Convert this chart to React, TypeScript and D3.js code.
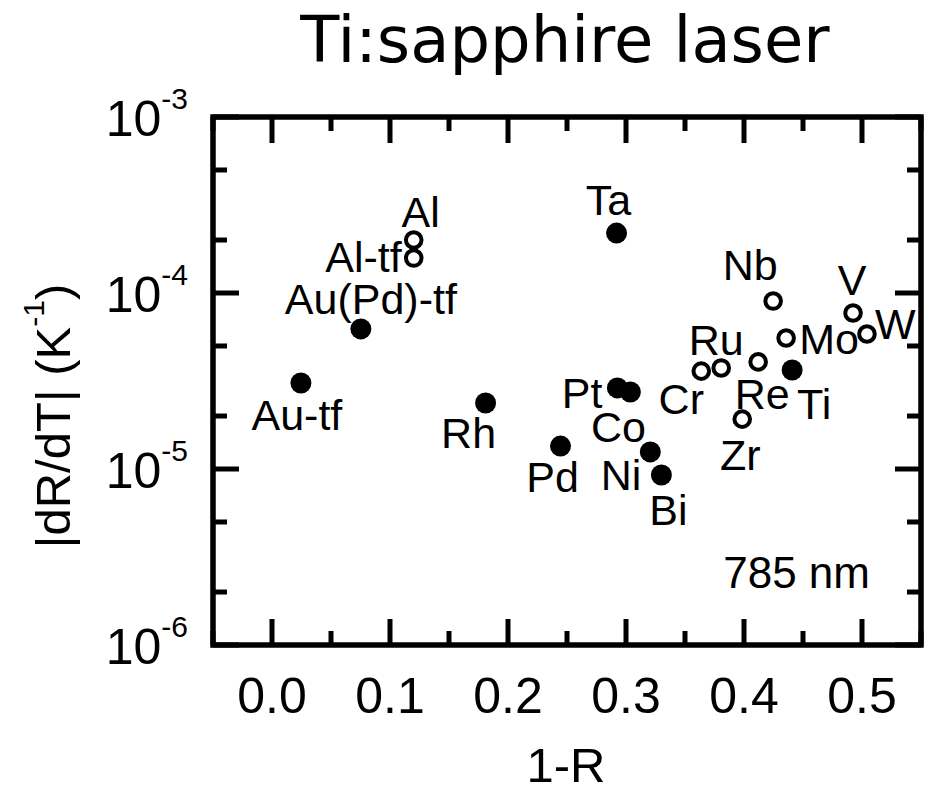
import React from "react";
import * as d3 from "d3";

// ---- data ----
const elements = ["Au-tf", "Au(Pd)-tf", "Al", "Al-tf", "Rh", "Ta", "Pd", "Pt", "Co", "Ni", "Bi", "Cr", "Ru", "Re", "Ti", "Zr", "Nb", "Mo", "V", "W"];
const oneMinusR = [0.0245, 0.0753, 0.1201, 0.1201, 0.181, 0.292, 0.2445, 0.2927, 0.3037, 0.3206, 0.33, 0.3638, 0.3807, 0.412, 0.4408, 0.3985, 0.4247, 0.4357, 0.4924, 0.5042];
const dRdT = [3.08e-5, 6.25e-5, 2.0e-4, 1.58e-4, 2.37e-5, 2.19e-4, 1.35e-5, 2.89e-5, 2.74e-5, 1.25e-5, 9.25e-6, 3.6e-5, 3.75e-5, 4.06e-5, 3.65e-5, 1.92e-5, 9.0e-5, 5.55e-5, 7.7e-5, 5.85e-5];
const markerType = ["filled", "filled", "open", "open", "filled", "filled", "filled", "filled", "filled", "filled", "filled", "open", "open", "open", "filled", "open", "open", "open", "open", "open"];
const xTicks = [0.0, 0.1, 0.2, 0.3, 0.4, 0.5];
const xMinorTicks = [-0.05, 0.05, 0.15, 0.25, 0.35, 0.45, 0.55];
const yTickExps = [-3, -4, -5, -6];
const yMinorTicks = [2e-6, 5e-6, 2e-5, 5e-5, 2e-4, 5e-4];
const title = "Ti:sapphire laser";
const xTitle = "1-R";
const annotation = "785 nm";

// ---- label layout (offsets from point, px) ----
const labelLayout: Record<string, [number, number, string]> = {
  "Au-tf": [-4, 47, "middle"],
  "Au(Pd)-tf": [10, -15, "middle"],
  "Al": [7, -13, "middle"],
  "Al-tf": [-12, 14, "end"],
  "Rh": [-17, 45, "middle"],
  "Ta": [-8, -18, "middle"],
  "Pd": [-8, 46, "middle"],
  "Pt": [-15, 20, "end"],
  "Co": [-12, 50, "middle"],
  "Ni": [-9, 38, "end"],
  "Bi": [7, 50, "middle"],
  "Cr": [-20, 43, "middle"],
  "Ru": [-5, -13, "middle"],
  "Re": [4, 47, "middle"],
  "Ti": [22, 49, "middle"],
  "Zr": [-2, 51, "middle"],
  "Nb": [-23, -21, "middle"],
  "Mo": [13, 16, "start"],
  "V": [-1, -18, "middle"],
  "W": [8, 5, "start"],
};

const W = 930;
const H = 793;
const left = 213;
const right = 921;
const top = 117;
const bottom = 645;
const FONT = "'Liberation Sans', Arial, sans-serif";

export default function App() {
  const x = d3.scaleLinear().domain([-0.05, 0.55]).range([left, right]);
  const y = d3.scaleLog().domain([1e-6, 1e-3]).range([bottom, top]);
  const major = 26;
  const minor = 14;
  const sw = 5;

  return (
    <svg width={W} height={H} style={{ position: "absolute", left: 0, top: 0, background: "#fff" }}>
      <rect x={0} y={0} width={W} height={H} fill="#fff" />
      <text x={565} y={62} textAnchor="middle" fontFamily="'DejaVu Sans', Verdana, sans-serif" fontSize={64} fill="#000">
        {title}
      </text>

      {/* x ticks */}
      {xTicks.map((t) => (
        <g key={"xt" + t}>
          <line x1={x(t)} x2={x(t)} y1={bottom} y2={bottom - major} stroke="#000" strokeWidth={sw} />
          <line x1={x(t)} x2={x(t)} y1={top} y2={top + major} stroke="#000" strokeWidth={sw} />
          <text x={x(t)} y={713} textAnchor="middle" fontFamily={FONT} fontSize={50} fill="#000">
            {d3.format(".1f")(t)}
          </text>
        </g>
      ))}
      {xMinorTicks.map((t) => (
        <g key={"xm" + t}>
          <line x1={x(t)} x2={x(t)} y1={bottom} y2={bottom - minor} stroke="#000" strokeWidth={sw} />
          <line x1={x(t)} x2={x(t)} y1={top} y2={top + minor} stroke="#000" strokeWidth={sw} />
        </g>
      ))}

      {/* y ticks */}
      {yTickExps.map((e) => {
        const v = Math.pow(10, e);
        return (
          <g key={"yt" + e}>
            <line x1={left} x2={left + major} y1={y(v)} y2={y(v)} stroke="#000" strokeWidth={sw} />
            <line x1={right} x2={right - major} y1={y(v)} y2={y(v)} stroke="#000" strokeWidth={sw} />
            <text x={188} y={y(v) + 19} textAnchor="end" fontFamily={FONT} fontSize={50} fill="#000">
              <tspan>10</tspan>
              <tspan dy={-27} fontSize={30}>{String(e)}</tspan>
            </text>
          </g>
        );
      })}
      {yMinorTicks.map((v) => (
        <g key={"ym" + v}>
          <line x1={left} x2={left + minor} y1={y(v)} y2={y(v)} stroke="#000" strokeWidth={sw} />
          <line x1={right} x2={right - minor} y1={y(v)} y2={y(v)} stroke="#000" strokeWidth={sw} />
        </g>
      ))}

      {/* frame */}
      <rect x={left} y={top} width={right - left} height={bottom - top} fill="none" stroke="#000" strokeWidth={5.5} />

      {/* points */}
      {elements.map((name, i) => {
        const cx = x(oneMinusR[i]);
        const cy = y(dRdT[i]);
        return markerType[i] === "filled" ? (
          <circle key={"p" + name} cx={cx} cy={cy} r={10.5} fill="#000" />
        ) : (
          <circle key={"p" + name} cx={cx} cy={cy} r={7.8} fill="none" stroke="#000" strokeWidth={4} />
        );
      })}

      {/* labels */}
      {elements.map((name, i) => {
        const [dx, dy, anchor] = labelLayout[name];
        return (
          <text
            key={"l" + name}
            x={x(oneMinusR[i]) + dx}
            y={y(dRdT[i]) + dy}
            textAnchor={anchor as any}
            fontFamily={FONT}
            fontSize={43}
            fill="#000"
          >
            {name}
          </text>
        );
      })}

      <text x={870} y={588} textAnchor="end" fontFamily={FONT} fontSize={44} fill="#000">
        {annotation}
      </text>

      {/* axis titles */}
      <text x={566} y={782} textAnchor="middle" fontFamily={FONT} fontSize={49} fill="#000">
        {xTitle}
      </text>
      <text
        transform="translate(70,416) rotate(-90)"
        textAnchor="middle"
        fontFamily={FONT}
        fontSize={49}
        fill="#000"
      >
        <tspan>|dR/dT| (K</tspan>
        <tspan dy={-26} fontSize={30}>-1</tspan>
        <tspan dy={26}>)</tspan>
      </text>
    </svg>
  );
}
